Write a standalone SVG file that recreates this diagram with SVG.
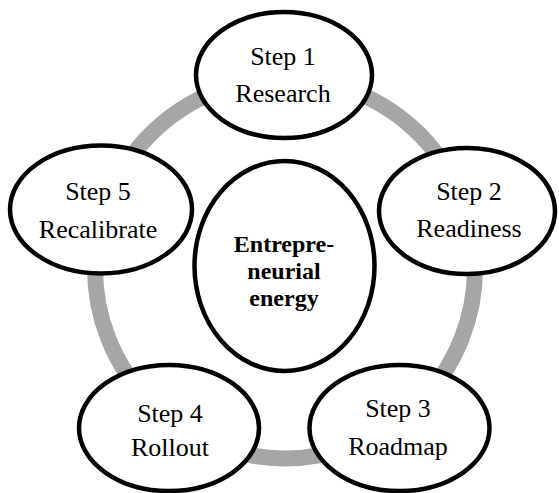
<svg xmlns="http://www.w3.org/2000/svg" width="559" height="493" viewBox="0 0 559 493">
<style>
.node{fill:#fff;stroke:#000;stroke-width:4.5}
.lbl{font-family:"Liberation Serif","Times New Roman",serif;font-size:26px;fill:#000;text-anchor:middle}
.ctr{font-family:"Liberation Serif","Times New Roman",serif;font-size:24px;font-weight:bold;fill:#000;text-anchor:middle}
</style>
<rect width="559" height="493" fill="#fff"/>
<g id="connectors">
<circle cx="285" cy="268.5" r="190" fill="none" stroke="#a6a6a6" stroke-width="16"/>
</g>
<g id="center">
<ellipse class="node" cx="284.5" cy="266" rx="90" ry="105"/>
<text class="ctr" x="284" y="251.5">Entrepre-</text>
<text class="ctr" x="284" y="278.5">neurial</text>
<text class="ctr" x="284" y="305.5">energy</text>
</g>
<g id="step1">
<ellipse class="node" cx="284" cy="75" rx="88" ry="63"/>
<text class="lbl" x="283" y="65">Step 1</text>
<text class="lbl" x="283" y="102">Research</text>
</g>
<g id="step2">
<ellipse class="node" cx="467" cy="211" rx="88" ry="63"/>
<text class="lbl" x="469" y="200">Step 2</text>
<text class="lbl" x="469" y="237">Readiness</text>
</g>
<g id="step3">
<ellipse class="node" cx="399.5" cy="428" rx="90" ry="63"/>
<text class="lbl" x="398" y="417">Step 3</text>
<text class="lbl" x="398" y="455">Roadmap</text>
</g>
<g id="step4">
<ellipse class="node" cx="169" cy="428" rx="90" ry="63"/>
<text class="lbl" x="170" y="422">Step 4</text>
<text class="lbl" x="170" y="456">Rollout</text>
</g>
<g id="step5">
<ellipse class="node" cx="101" cy="209.5" rx="91" ry="64"/>
<text class="lbl" x="98" y="200">Step 5</text>
<text class="lbl" x="98" y="238">Recalibrate</text>
</g>
</svg>
